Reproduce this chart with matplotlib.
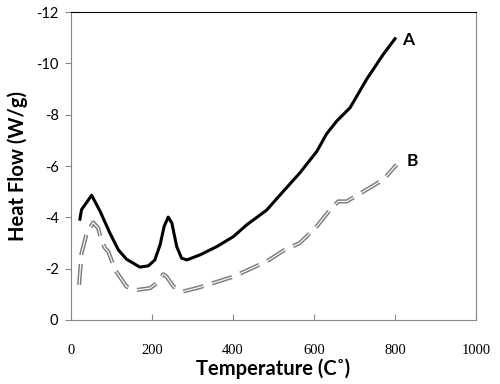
import matplotlib
matplotlib.use("Agg")
import matplotlib.pyplot as plt

plt.rcParams['lines.scale_dashes'] = False

# sample A (solid black) - temperature (C) and heat flow (W/g)
temp_a = [22, 26, 51, 72, 96, 117, 137, 170, 191, 207, 220, 230, 240, 249, 261,
          273, 286, 319, 360, 401, 434, 483, 524, 565, 607, 631, 656, 689, 730,
          771, 800]
flow_a = [-3.93, -4.3, -4.86, -4.23, -3.39, -2.73, -2.37, -2.06, -2.11, -2.34,
          -2.93, -3.65, -4.01, -3.78, -2.86, -2.41, -2.34, -2.54, -2.86, -3.25,
          -3.71, -4.28, -5.01, -5.73, -6.57, -7.25, -7.75, -8.27, -9.38, -10.35,
          -10.96]

# sample B (dashed gray)
temp_b = [20, 26, 39, 55, 67, 76, 84, 92, 109, 137, 162, 195, 212, 228, 236,
          253, 277, 319, 401, 483, 524, 565, 607, 640, 660, 681, 730, 771, 804]
flow_b = [-1.37, -2.6, -3.39, -3.8, -3.58, -3.06, -2.8, -2.67, -1.95, -1.3,
          -1.17, -1.24, -1.43, -1.78, -1.69, -1.3, -1.11, -1.28, -1.69, -2.28,
          -2.7, -3.0, -3.65, -4.3, -4.62, -4.62, -5.08, -5.47, -6.05]

x_ticks = [0, 200, 400, 600, 800, 1000]
y_ticks = [0, -2, -4, -6, -8, -10, -12]

fig = plt.figure(figsize=(5, 3.84), dpi=100)
ax = fig.add_axes([0.142, 0.1667, 0.81, 0.802])

ax.plot(temp_a, flow_a, color='black', lw=2.2, solid_joinstyle='round')
# double-line dash: gray outline with white core
ax.plot(temp_b, flow_b, color='#808080', lw=3.0, dashes=(15, 6.5))
ax.plot(temp_b, flow_b, color='white', lw=0.8, dashes=(15, 6.5))

ax.text(832, -10.9, 'A', fontsize=12.5, fontweight='bold', family='Lato',
        va='center', ha='center')
ax.text(842, -6.18, 'B', fontsize=12.5, fontweight='bold', family='Lato',
        va='center', ha='center')

ax.set_xlim(0, 1000)
ax.set_ylim(0, -12)
ax.set_xticks(x_ticks)
ax.set_yticks(y_ticks)
ax.set_yticklabels([str(v) for v in y_ticks], family='Lato', fontsize=10.5)
ax.set_xticklabels([str(v) for v in x_ticks], family='Liberation Serif',
                   fontsize=10.5)

ax.tick_params(axis='x', direction='in', length=4, pad=17, colors='#888888',
               labelcolor='black')
ax.tick_params(axis='y', direction='out', length=4, pad=5, colors='#888888',
               labelcolor='black')

for side in ['left', 'bottom', 'right']:
    ax.spines[side].set_color('#888888')
ax.spines['top'].set_color('black')

ax.set_xlabel('Temperature (C˚)', family=['Lato', 'DejaVu Sans'],
              fontweight='bold', fontsize=14.5, labelpad=1)
ax.set_ylabel('Heat Flow (W/g)', family=['Lato', 'DejaVu Sans'],
              fontweight='bold', fontsize=14.5, labelpad=6)

fig.savefig('out.png', dpi=100)
